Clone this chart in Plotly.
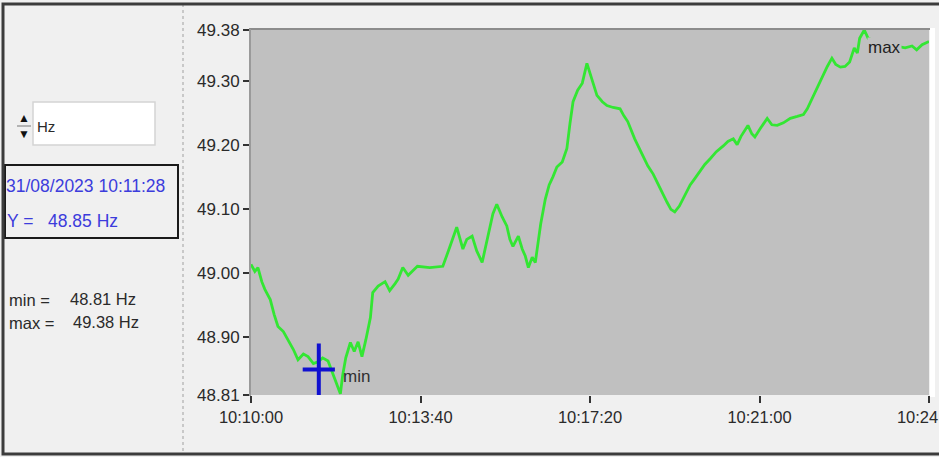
import pandas as pd
import plotly.graph_objects as go

# ---------------- data ----------------
start_time = "2023-08-31 10:10:00"
offsets_s = [0, 5, 9, 14, 18, 25, 30, 35, 42, 48, 55, 61, 68, 74, 81, 87, 93, 100, 105, 109,
             113, 116, 119, 123, 129, 134, 139, 144, 149, 155, 158, 165, 174, 180, 187, 191,
             197, 204, 209, 216, 232, 249, 258, 267, 275, 280, 287, 293, 300, 308, 314, 319,
             326, 332, 336, 340, 347, 352, 356, 360, 365, 369, 373, 376, 382, 387, 392, 397,
             404, 410, 414, 418, 424, 430, 436, 443, 449, 456, 462, 470, 479, 484, 489, 498,
             509, 515, 522, 531, 540, 545, 550, 556, 561, 566, 570, 576, 583, 589, 596, 604,
             613, 619, 626, 631, 636, 645, 650, 654, 661, 670, 676, 683, 691, 700, 709, 717,
             722, 726, 731, 735, 739, 742, 748, 754, 759, 765, 771, 777, 783, 787, 790, 796,
             801, 816, 836, 849, 858, 864, 871, 880]
freq_hz = [49.014, 49.003, 49.009, 48.987, 48.975, 48.959, 48.936, 48.917, 48.909, 48.896,
           48.881, 48.865, 48.874, 48.870, 48.859, 48.862, 48.868, 48.863, 48.846, 48.834,
           48.821, 48.812, 48.841, 48.868, 48.892, 48.878, 48.893, 48.870, 48.896, 48.931,
           48.970, 48.980, 48.987, 48.973, 48.984, 48.991, 49.009, 48.997, 49.003, 49.011,
           49.009, 49.011, 49.041, 49.072, 49.038, 49.053, 49.058, 49.035, 49.017, 49.061,
           49.093, 49.108, 49.088, 49.074, 49.053, 49.042, 49.058, 49.038, 49.027, 49.009,
           49.025, 49.017, 49.053, 49.077, 49.116, 49.138, 49.151, 49.166, 49.174, 49.195,
           49.234, 49.268, 49.286, 49.297, 49.328, 49.301, 49.278, 49.268, 49.262, 49.259,
           49.257, 49.246, 49.237, 49.210, 49.184, 49.168, 49.155, 49.132, 49.111, 49.100,
           49.096, 49.105, 49.116, 49.129, 49.138, 49.148, 49.160, 49.170, 49.179, 49.190,
           49.199, 49.206, 49.210, 49.201, 49.214, 49.231, 49.218, 49.213, 49.226, 49.242,
           49.232, 49.231, 49.235, 49.242, 49.245, 49.248, 49.257, 49.267, 49.281, 49.292,
           49.301, 49.308, 49.323, 49.336, 49.326, 49.322, 49.323, 49.330, 49.352, 49.344,
           49.367, 49.380, 49.367, 49.360, 49.355, 49.352, 49.355, 49.349, 49.357, 49.362]

y_ticks = [48.81, 48.90, 49.00, 49.10, 49.20, 49.30, 49.38]
x_tick_labels = ["10:10:00", "10:13:40", "10:17:20", "10:21:00", "10:24:40"]
cursor_time = "2023-08-31 10:11:28"
cursor_value = 48.85
unit = "Hz"

# ---------------- figure ----------------
W, H = 939, 457
L, R, T, B = 251, 10, 30, 62
PW, PH = W - L - R, H - T - B

def px(x):
    return (x - L) / PW

def py(y):
    return (H - B - y) / PH

t0 = pd.Timestamp(start_time)
times = [t0 + pd.Timedelta(seconds=s) for s in offsets_s]
tick_vals = [pd.Timestamp("2023-08-31 " + s) for s in x_tick_labels]

vmin = min(freq_hz)
vmax = max(freq_hz)
i_min = freq_hz.index(vmin)
i_max = freq_hz.index(vmax)

FONT = "Liberation Sans, Arial, sans-serif"
GREEN = "#33e633"
BLUE = "#3c3cdc"
TXT = "#2a2a2a"

fig = go.Figure()
fig.add_trace(go.Scatter(x=times, y=freq_hz, mode="lines",
                         line=dict(color=GREEN, width=2.8), hoverinfo="skip"))
# cursor crosshair
ct = pd.Timestamp(cursor_time)
fig.add_trace(go.Scatter(x=[ct], y=[cursor_value], mode="markers",
                         marker=dict(symbol="line-ew", size=23,
                                     line=dict(color="#1010d0", width=4)), hoverinfo="skip"))
fig.add_trace(go.Scatter(x=[ct], y=[cursor_value], mode="markers",
                         marker=dict(symbol="line-ns", size=37,
                                     line=dict(color="#1010d0", width=4)), hoverinfo="skip"))

shapes = []
# left panel divider (dotted)
shapes.append(dict(type="line", xref="paper", yref="paper", x0=px(183), x1=px(183),
                   y0=py(4), y1=py(454), line=dict(color="#a0a0a0", width=1, dash="dot")))
# plot frame top/left darker edges
shapes.append(dict(type="line", xref="paper", yref="paper", x0=px(249), x1=px(930),
                   y0=py(29), y1=py(29), line=dict(color="#8c8c8c", width=2)))
shapes.append(dict(type="line", xref="paper", yref="paper", x0=px(250), x1=px(250),
                   y0=py(29), y1=py(396), line=dict(color="#9a9a9a", width=2)))
# white strip at right
shapes.append(dict(type="rect", xref="paper", yref="paper", x0=px(930), x1=px(935),
                   y0=py(28), y1=py(397), fillcolor="#ffffff", line=dict(width=0)))
# spin box
shapes.append(dict(type="rect", xref="paper", yref="paper", x0=px(33), x1=px(155),
                   y0=py(145), y1=py(102), fillcolor="#ffffff",
                   line=dict(color="#d4d4d4", width=1.5)))
shapes.append(dict(type="line", xref="paper", yref="paper", x0=px(17), x1=px(31),
                   y0=py(126), y1=py(126), line=dict(color="#777777", width=1)))
# cursor info box
shapes.append(dict(type="rect", xref="paper", yref="paper", x0=px(5), x1=px(178),
                   y0=py(238), y1=py(165), line=dict(color="#1a1a1a", width=2)))
# outer border
shapes.append(dict(type="rect", xref="paper", yref="paper", x0=px(3), x1=px(960),
                   y0=py(454), y1=py(4), line=dict(color="#3c3c3c", width=3)))

ann = []
def txt(x, y, s, color=TXT, size=17, xanchor="left"):
    ann.append(dict(xref="paper", yref="paper", x=px(x), y=py(y), text=s, showarrow=False,
                    xanchor=xanchor, yanchor="middle", font=dict(family=FONT, size=size, color=color)))

txt(16, 118, "▲", color="#111111", size=12)
txt(16, 134, "▼", color="#111111", size=12)
txt(35, 126, unit, size=15)
txt(4, 186, ct.strftime("%d/%m/%Y %H:%M:%S"), color=BLUE, size=17.5)
txt(5, 221, "Y =", color=BLUE, size=17.5)
txt(46, 221, f"{cursor_value:.2f} {unit}", color=BLUE, size=17.5)
txt(7, 300, "min =", size=16.5)
txt(68, 299, f"{vmin:.2f} {unit}", size=16.5)
txt(7, 323, "max =", size=16.5)
txt(71, 322, f"{vmax:.2f} {unit}", size=16.5)

# min / max labels next to the extreme points
ann.append(dict(x=times[i_min], y=vmin, xref="x", yref="y", text="min", showarrow=False,
                xanchor="left", yanchor="middle", xshift=1, yshift=17,
                font=dict(family=FONT, size=17, color="#303030")))
ann.append(dict(x=times[i_max], y=vmax, xref="x", yref="y", text="max", showarrow=False,
                xanchor="left", yanchor="middle", xshift=3, yshift=-17, bgcolor="#c0c0c0",
                borderpad=0, font=dict(family=FONT, size=17, color="#1e1e1e")))

fig.update_layout(
    width=W, height=H, margin=dict(l=L, r=R, t=T, b=B, pad=0, autoexpand=False),
    paper_bgcolor="#f0f0f0", plot_bgcolor="#c0c0c0", showlegend=False,
    shapes=shapes, annotations=ann,
    xaxis=dict(range=[tick_vals[0], tick_vals[-1]], tickvals=tick_vals, ticktext=x_tick_labels,
               showgrid=False, zeroline=False, showline=False, ticks="outside", ticklen=7,
               tickwidth=1.5, tickcolor="#333333", ticklabeloverflow="allow", automargin=False,
               tickfont=dict(family=FONT, size=16.5, color=TXT), fixedrange=True),
    yaxis=dict(range=[y_ticks[0], y_ticks[-1]], tickvals=y_ticks, automargin=False,
               ticktext=[f"{v:.2f}" for v in y_ticks], showgrid=False, zeroline=False,
               showline=False, ticks="outside", ticklen=7, tickwidth=1.5, tickcolor="#333333",
               tickfont=dict(family=FONT, size=17, color=TXT), fixedrange=True),
)

fig.write_html("out.html")
